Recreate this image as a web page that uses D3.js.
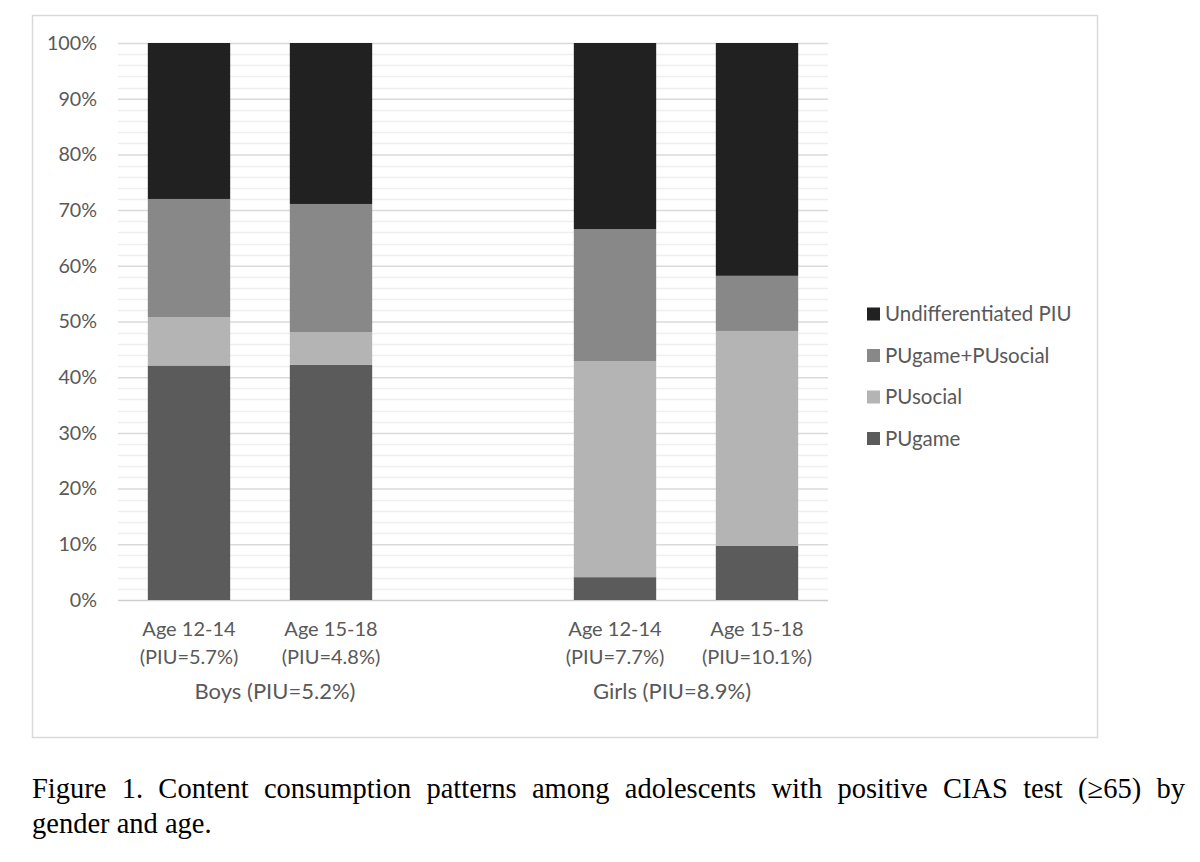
<!DOCTYPE html>
<html>
<head>
<meta charset="utf-8">
<script src="https://cdn.jsdelivr.net/npm/d3@7"></script>
<style>
  body { margin: 0; background: #fff; }
  #viz { position: relative; width: 1200px; height: 862px; }
  #caption {
    position: absolute; left: 32px; top: 771px; width: 1153px;
    font-family: "Liberation Serif", "Times New Roman", serif;
    font-size: 28.5px; line-height: 35px; color: #000;
  }
  #caption .l1 { text-align: justify; text-align-last: justify; white-space: nowrap; }
</style>
</head>
<body>
<div id="viz"></div>
<script>
// categories (the middle one is the empty slot between boys and girls)
const categories = ["b1214", "b1518", "gap", "g1214", "g1518"];
const ageLabels = ["Age 12-14", "Age 15-18", "", "Age 12-14", "Age 15-18"];
const piuLabels = ["(PIU=5.7%)", "(PIU=4.8%)", "", "(PIU=7.7%)", "(PIU=10.1%)"];
const groupLabels = ["Boys (PIU=5.2%)", "Girls (PIU=8.9%)"];
const groupMembers = [["b1214", "b1518"], ["g1214", "g1518"]];

const seriesNames = ["PUgame", "PUsocial", "PUgame+PUsocial", "Undifferentiated PIU"];
const puGame = [42.1, 42.2, 0, 4.1, 9.7];
const puSocial = [8.7, 5.9, 0, 38.8, 38.6];
const puBoth = [21.2, 23.0, 0, 23.7, 9.9];
const undifferentiated = [28.0, 28.9, 0, 33.4, 41.8];
const yTicks = [0, 10, 20, 30, 40, 50, 60, 70, 80, 90, 100];

const captionLines = [
    "Figure 1. Content consumption patterns among adolescents with positive CIAS test (\u226565) by",
    "gender and age."
];

const colors = ["#5b5b5b", "#b4b4b4", "#888888", "#212121"];

const width = 1200;
const height = 862;

const rows = categories.map((c, i) => ({
    cat: c,
    "PUgame": puGame[i],
    "PUsocial": puSocial[i],
    "PUgame+PUsocial": puBoth[i],
    "Undifferentiated PIU": undifferentiated[i]
}));

const container = d3.select("#viz");
const svg = container.append("svg")
    .attr("width", width)
    .attr("height", height)
    .style("position", "absolute")
    .style("left", 0)
    .style("top", 0);

// chart frame
svg.append("rect")
    .attr("x", 32.5).attr("y", 15.5)
    .attr("width", 1065).attr("height", 722)
    .attr("fill", "#fff")
    .attr("stroke", "#d9d9d9")
    .attr("stroke-width", 1.5);

const x = d3.scaleBand()
    .domain(categories)
    .range([118, 828])
    .paddingInner(0.42)
    .paddingOuter(0.21);

const y = d3.scaleLinear()
    .domain([0, 100])
    .range([600, 43]);

// minor gridlines every 2%
svg.append("g")
    .selectAll("line")
    .data(d3.range(0, 101, 2).filter(v => v % 10 !== 0))
    .enter()
    .append("line")
    .attr("x1", 118).attr("x2", 828)
    .attr("y1", d => Math.round(y(d)) + 0.5)
    .attr("y2", d => Math.round(y(d)) + 0.5)
    .attr("stroke", "#efefef")
    .attr("stroke-width", 1.3);

const labelFont = "Lato, 'Open Sans', sans-serif";

// major gridlines via axis
const yAxis = svg.append("g")
    .attr("transform", "translate(118,0)")
    .call(d3.axisLeft(y).tickValues(yTicks).tickSize(-710).tickFormat(d => d + "%").tickPadding(21));
yAxis.select(".domain").remove();
yAxis.selectAll(".tick line")
    .attr("stroke", d => d === 0 ? "#d0d0d0" : "#dadada")
    .attr("stroke-width", 1.5);
yAxis.selectAll(".tick text")
    .attr("fill", "#595959")
    .style("font-family", labelFont)
    .style("font-size", "19.7px");

// stacked bars
const stack = d3.stack().keys(seriesNames);
const stacked = stack(rows);

svg.append("g")
    .selectAll("g")
    .data(stacked)
    .enter()
    .append("g")
    .attr("fill", (d, i) => colors[i])
    .selectAll("rect")
    .data(d => d.filter(p => p.data.cat !== "gap"))
    .enter()
    .append("rect")
    .attr("x", d => x(d.data.cat))
    .attr("width", x.bandwidth())
    .attr("y", d => y(d[1]))
    .attr("height", d => y(d[0]) - y(d[1]));

// category labels
const catG = svg.append("g")
    .style("font-family", labelFont)
    .style("font-size", "20px")
    .attr("fill", "#595959")
    .attr("text-anchor", "middle");

catG.selectAll("text.age")
    .data(categories)
    .enter()
    .append("text")
    .attr("class", "age")
    .attr("x", d => x(d) + x.bandwidth() / 2)
    .attr("y", 636)
    .text((d, i) => ageLabels[i]);

catG.selectAll("text.piu")
    .data(categories)
    .enter()
    .append("text")
    .attr("class", "piu")
    .attr("x", d => x(d) + x.bandwidth() / 2)
    .attr("y", 664)
    .text((d, i) => piuLabels[i]);

const groupShift = [15, -14];
catG.selectAll("text.group")
    .data(groupLabels)
    .enter()
    .append("text")
    .attr("class", "group")
    .style("font-size", "22px")
    .attr("x", (d, i) => d3.mean(groupMembers[i], c => x(c) + x.bandwidth() / 2) + groupShift[i])
    .attr("y", 699)
    .text(d => d);

// legend (top to bottom: reversed stack order)
const legendOrder = seriesNames.map((s, i) => ({ name: s, color: colors[i] })).reverse();
const legend = svg.append("g")
    .attr("transform", "translate(867,0)");

const legendItems = legend.selectAll("g")
    .data(legendOrder)
    .enter()
    .append("g")
    .attr("transform", (d, i) => `translate(0,${314 + i * 41.5})`);

legendItems.append("rect")
    .attr("x", 0).attr("y", -6.5)
    .attr("width", 13).attr("height", 13)
    .attr("fill", d => d.color);

legendItems.append("text")
    .attr("x", 18)
    .attr("y", 7)
    .attr("fill", "#595959")
    .style("font-family", labelFont)
    .style("font-size", "20.5px")
    .text(d => d.name);

// caption
const caption = container.append("div").attr("id", "caption");
caption.selectAll("div")
    .data(captionLines)
    .enter()
    .append("div")
    .attr("class", (d, i) => i === 0 ? "l1" : "l2")
    .text(d => d);
</script>
</body>
</html>
